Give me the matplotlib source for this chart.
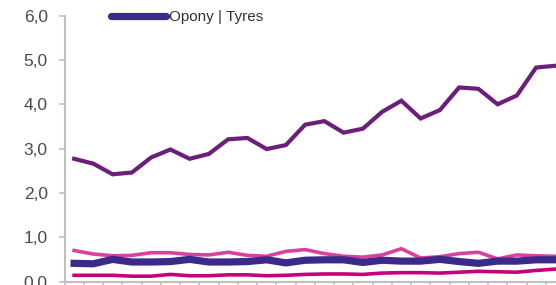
import matplotlib.pyplot as plt
from matplotlib.lines import Line2D
from matplotlib.ticker import FuncFormatter

# values
periods = list(range(26))
upper = [2.77, 2.66, 2.42, 2.46, 2.80, 2.98, 2.77, 2.88, 3.21, 3.24, 2.99, 3.08, 3.54,
         3.62, 3.36, 3.45, 3.83, 4.08, 3.68, 3.87, 4.38, 4.35, 4.00, 4.20, 4.83, 4.87]
pink = [0.70, 0.62, 0.58, 0.59, 0.65, 0.65, 0.61, 0.60, 0.66, 0.59, 0.57, 0.68, 0.72,
        0.63, 0.57, 0.55, 0.60, 0.74, 0.53, 0.56, 0.63, 0.66, 0.51, 0.60, 0.58, 0.57]
tyres = [0.41, 0.40, 0.50, 0.44, 0.44, 0.45, 0.50, 0.44, 0.44, 0.45, 0.49, 0.42, 0.48,
         0.49, 0.49, 0.43, 0.48, 0.46, 0.46, 0.50, 0.45, 0.41, 0.46, 0.46, 0.49, 0.49]
magenta = [0.14, 0.14, 0.14, 0.12, 0.12, 0.16, 0.13, 0.13, 0.15, 0.15, 0.13, 0.14, 0.16,
           0.17, 0.17, 0.16, 0.19, 0.20, 0.20, 0.19, 0.21, 0.23, 0.22, 0.21, 0.25, 0.28]
legend_label = 'Opony | Tyres'

plt.rcParams['font.family'] = ['Liberation Sans Narrow', 'Liberation Sans', 'DejaVu Sans']

fig = plt.figure(figsize=(5.56, 2.85), dpi=100)
# axes runs past the right edge, like the cropped original
ax = fig.add_axes([64.5 / 556, 3.5 / 285, 500.5 / 556, 265.8 / 285])

ax.plot(periods, upper, color='#6b1f7b', lw=3.0, solid_joinstyle='miter')
ax.plot(periods, pink, color='#d8419f', lw=2.6)
ax.plot(periods, tyres, color='#3c2a8a', lw=5.2)
ax.plot(periods, magenta, color='#c5007d', lw=2.6)

ax.set_xlim(-0.5, 25.5)
ax.set_ylim(0, 6)
ax.set_yticks([0, 1, 2, 3, 4, 5, 6])
ax.yaxis.set_major_formatter(FuncFormatter(lambda v, p: f'{v:.1f}'.replace('.', ',')))
ax.set_xticks([i - 0.5 for i in periods] + [25.5])
ax.set_xticklabels([])

for s in ['top', 'right']:
    ax.spines[s].set_visible(False)
for s in ['left', 'bottom']:
    ax.spines[s].set_color('#c0c0c0')
    ax.spines[s].set_linewidth(1.5)
ax.tick_params(axis='y', colors='#c0c0c0', labelcolor='#4a4a4a', labelsize=12.5,
               length=4, width=1.2, pad=8)
ax.tick_params(axis='x', colors='#c0c0c0', length=5, width=1.2)

handle = Line2D([], [], color='#3c2a8a', lw=5.2, solid_capstyle='round')
fig.legend([handle], [legend_label], loc='center left',
           bbox_to_anchor=(111 / 556, 1 - 17.5 / 285), frameon=False,
           borderpad=0, borderaxespad=0, handlelength=3.6, handletextpad=0.2,
           prop={'family': ['Liberation Sans', 'DejaVu Sans'], 'size': 11},
           labelcolor='#333333')

fig.savefig('out.png', dpi=100)
